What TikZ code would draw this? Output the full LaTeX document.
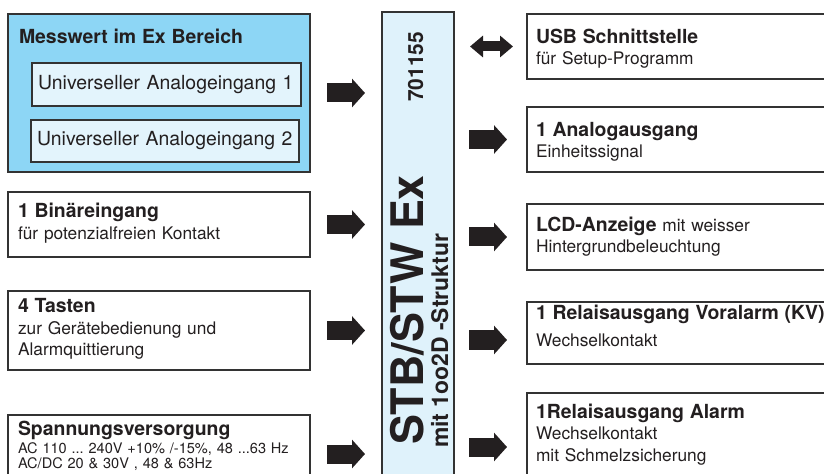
\documentclass[tikz,border=0pt]{standalone}
\usepackage{fontspec}
\setmainfont{TeX Gyre Heros}
\usepackage{tikz}
\usetikzlibrary{arrows.meta,positioning}
\frenchspacing

\definecolor{exblue}{HTML}{8DD6F5}
\definecolor{paleblue}{HTML}{E3F4FC}
\definecolor{barblue}{HTML}{DFF2FB}
\definecolor{frame}{HTML}{333333}
\definecolor{ink}{HTML}{231F20}

\newcommand{\boxhead}[1]{{\fontsize{19.5}{22}\selectfont\bfseries #1}}

\tikzset{
  box/.style={draw=frame, line width=1.8bp, fill=white, text=ink, anchor=north west,
    outer sep=0pt, inner xsep=10bp, inner ysep=0pt, align=left, text width=282bp,
    font=\fontsize{17.4}{21.5}\selectfont},
  rbox/.style={box, inner xsep=9bp, text width=292bp, font=\fontsize{17.4}{20.5}\selectfont},
  exbox/.style={box, fill=exblue},
  inbox/.style={box, fill=paleblue, inner xsep=6bp, minimum height=43bp,
    font=\fontsize{19.5}{22}\selectfont},
  barbox/.style={draw=frame, line width=1.5bp, fill=barblue, anchor=north west,
    outer sep=0pt, minimum width=72bp, minimum height=480bp},
  bartext/.style={rotate=90, anchor=base west, inner sep=0pt, text=ink},
  fat/.style={ink, line width=19bp, -{Triangle[length=13bp,width=28bp]}},
  fatboth/.style={ink, line width=10bp,
    {Triangle[length=13bp,width=21bp]}-{Triangle[length=13bp,width=21bp]}}
}

\begin{document}
\begin{tikzpicture}[x=1bp,y=-1bp]
 \useasboundingbox (0,0) rectangle (824,474);
 \clip (0,0) rectangle (824,474);
 % Eingaenge
 \node[exbox, text height=30bp, text depth=128bp, inner xsep=11bp, text width=280bp] (messwert) at (8,14)
   {\boxhead{Messwert im Ex Bereich}};
 \node[inbox, text width=257bp] (ana1) at (32,63) {Universeller Analogeingang 1};
 \node[inbox, text width=256bp, minimum height=42bp] (ana2) at (31,120) {Universeller Analogeingang 2};
 \node[box, text height=26bp, text depth=39bp] (binaer) at (8,192)
   {\boxhead{1 Binäreingang}\\ für potenzialfreien Kontakt};
 \node[box, text height=22bp, text depth=57bp] (tasten) at (8,291)
   {\boxhead{4 Tasten}\\ zur Gerätebedienung und\\ Alarmquittierung};
 \node[box, text height=20bp, text depth=65bp, font=\fontsize{14.6}{15}\selectfont] (spannung) at (8,415)
   {\boxhead{Spannungsversorgung}\\[2bp] AC 110 ... 240V +10\% /-15\%, 48 ...63 Hz\\ AC/DC 20 \& 30V , 48 \& 63Hz};
 % Geraet
 \node[barbox] (geraet) at (382,12) {};
 \node[bartext, font=\fontsize{45}{45}\selectfont\bfseries] (typ) at (423,445) {STB/STW Ex};
 \node[bartext, font=\fontsize{23}{23}\selectfont\bfseries] (struktur) at (448,448) {mit 1oo2D -Struktur};
 \node[bartext, font=\fontsize{21}{21}\selectfont\bfseries] (nummer) at (423,102) {701155};
 % Ausgaenge
 \node[rbox, text height=30bp, text depth=35bp] (usb) at (527,14)
   {\boxhead{USB Schnittstelle}\\ für Setup-Programm};
 \node[rbox, text height=30bp, text depth=35bp] (analog) at (527,107)
   {\boxhead{1 Analogausgang}\\ Einheitssignal};
 \node[rbox, text height=28bp, text depth=38bp] (lcd) at (527,204)
   {\boxhead{LCD-Anzeige} mit weisser\\ Hintergrundbeleuchtung};
 \node[rbox, text height=18bp, text depth=44bp] (voralarm) at (527,302)
   {\boxhead{1 Relaisausgang Voralarm (KV)}\\[6bp] Wechselkontakt};
 \node[rbox, text height=25bp, text depth=82bp, font=\fontsize{17.4}{22}\selectfont] (alarm) at (527,393)
   {\boxhead{1Relaisausgang Alarm}\\ Wechselkontakt\\ mit Schmelzsicherung};
 % Pfeile
 \draw[fat, shorten <=17bp, shorten >=17bp] (messwert.east) -- (messwert.east -| geraet.west);
 \draw[fat, shorten <=17bp, shorten >=17bp] (binaer.east) -- (binaer.east -| geraet.west);
 \draw[fat, shorten <=17bp, shorten >=17bp] (tasten.east) -- (tasten.east -| geraet.west);
 \draw[fat, shorten <=17bp, shorten >=17bp] ([yshift=-39bp]spannung.north east)
   -- ([yshift=-39bp]spannung.north east -| geraet.west);
 \draw[fatboth, shorten <=16bp, shorten >=14bp] (usb.west -| geraet.east) -- (usb.west);
 \draw[fat, shorten <=15bp, shorten >=20bp] (analog.west -| geraet.east) -- (analog.west);
 \draw[fat, shorten <=15bp, shorten >=20bp] (lcd.west -| geraet.east) -- (lcd.west);
 \draw[fat, shorten <=15bp, shorten >=20bp] ([yshift=-7bp]voralarm.west -| geraet.east)
   -- ([yshift=-7bp]voralarm.west);
 \draw[fat, shorten <=15bp, shorten >=20bp] ([yshift=-54bp]alarm.north west -| geraet.east)
   -- ([yshift=-54bp]alarm.north west);
\end{tikzpicture}
\end{document}
